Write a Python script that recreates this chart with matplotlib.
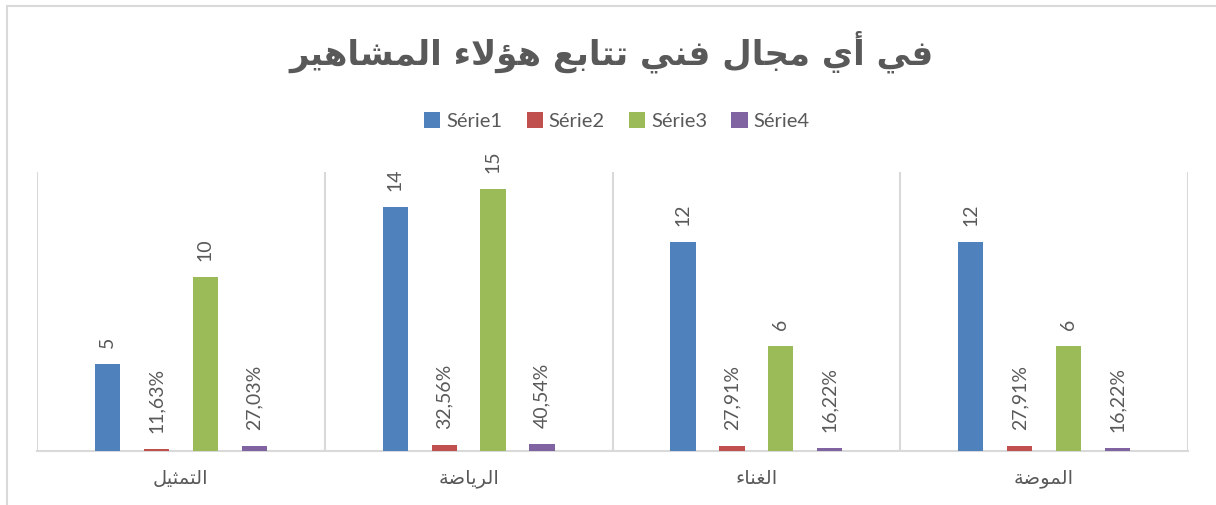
import matplotlib

matplotlib.use("Agg")

import matplotlib.pyplot as plt
from matplotlib.patches import Rectangle

title = "في أي مجال فني تتابع هؤلاء المشاهير"
categories = ["التمثيل", "الرياضة", "الغناء", "الموضة"]
series_names = ["Série1", "Série2", "Série3", "Série4"]
serie1 = [5, 14, 12, 12]
serie2 = [0.1163, 0.3256, 0.2791, 0.2791]
serie3 = [10, 15, 6, 6]
serie4 = [0.2703, 0.4054, 0.1622, 0.1622]
percent_series = [False, True, False, True]

colors = ["#4f81bd", "#c0504d", "#9bbb59", "#8064a2"]
text_color = "#595959"
grid_color = "#d9d9d9"

# matplotlib has no Arabic shaping, so pick contextual presentation forms
# (base code point, number of forms) -- 4 = dual joining, 2 = right joining
ARABIC_FORMS = {
    "\u0621": (0xFE80, 1),
    "\u0623": (0xFE83, 2),
    "\u0624": (0xFE85, 2),
    "\u0627": (0xFE8D, 2),
    "\u0628": (0xFE8F, 4),
    "\u0629": (0xFE93, 2),
    "\u062A": (0xFE95, 4),
    "\u062B": (0xFE99, 4),
    "\u062C": (0xFE9D, 4),
    "\u0631": (0xFEAD, 2),
    "\u0634": (0xFEB5, 4),
    "\u0636": (0xFEBD, 4),
    "\u0639": (0xFEC9, 4),
    "\u063A": (0xFECD, 4),
    "\u0641": (0xFED1, 4),
    "\u0644": (0xFEDD, 4),
    "\u0645": (0xFEE1, 4),
    "\u0646": (0xFEE5, 4),
    "\u0647": (0xFEE9, 4),
    "\u0648": (0xFEED, 2),
    "\u064A": (0xFEF1, 4),
}
LAM_ALEF = {"\u0627": 0xFEFB, "\u0623": 0xFEF7}


def _joins_next(c):
    return c in ARABIC_FORMS and ARABIC_FORMS[c][1] == 4


def _joinable(c):
    return c in ARABIC_FORMS and ARABIC_FORMS[c][1] >= 2


def shape_arabic(text):
    out = []
    i = 0
    n = len(text)
    while i < n:
        c = text[i]
        if c not in ARABIC_FORMS:
            out.append(c)
            i += 1
            continue
        prev = text[i - 1] if i > 0 else None
        connect_prev = prev is not None and _joins_next(prev) and _joinable(c)
        if c == "\u0644" and i + 1 < n and text[i + 1] in LAM_ALEF:
            out.append(chr(LAM_ALEF[text[i + 1]] + (1 if connect_prev else 0)))
            i += 2
            continue
        base, nforms = ARABIC_FORMS[c]
        nxt = text[i + 1] if i + 1 < n else None
        connect_next = nforms == 4 and nxt is not None and _joinable(nxt)
        if connect_prev and connect_next:
            code = base + 3
        elif connect_next:
            code = base + 2
        elif connect_prev:
            code = base + 1
        else:
            code = base
        out.append(chr(code))
        i += 1
    return "".join(reversed(out))


def fmt_label(value, is_percent):
    if is_percent:
        return f"{value * 100:.2f}%".replace(".", ",")
    return f"{value:g}"


W, H = 1216, 505
fig = plt.figure(figsize=(W / 100, H / 100), dpi=100)
ax = fig.add_axes([37 / W, (H - 451) / H, (1188 - 37) / W, (451 - 172) / H])

all_series = [serie1, serie2, serie3, serie4]
x = list(range(len(categories)))
bar_width = 0.088
step = 0.17

for k, (name, values) in enumerate(zip(series_names, all_series)):
    offset = (k - 1.5) * step
    positions = [xi + offset for xi in x]
    bars = ax.bar(positions, values, width=bar_width, color=colors[k],
                  label=name, zorder=3)
    for bar, v in zip(bars, values):
        ax.annotate(fmt_label(v, percent_series[k]),
                    xy=(bar.get_x() + bar.get_width() / 2, bar.get_height()),
                    xytext=(0, 11.5), textcoords="offset points",
                    rotation=90, ha="center", va="bottom",
                    fontsize=14, color=text_color, family="Lato")

ax.set_xlim(-0.5, len(categories) - 0.5)
ax.set_ylim(0, 16)
ax.set_yticks([])
ax.set_xticks(x)
ax.set_xticklabels([shape_arabic(c) for c in categories],
                   family="DejaVu Sans", fontsize=14, color=text_color)
ax.tick_params(axis="x", length=0, pad=13)

for b in [xi - 0.5 for xi in x] + [len(categories) - 0.5]:
    ax.axvline(b, color=grid_color, linewidth=1.5, zorder=1)

for side in ["top", "left", "right"]:
    ax.spines[side].set_visible(False)
ax.spines["bottom"].set_color(grid_color)
ax.spines["bottom"].set_linewidth(1.5)

fig.text(612 / W, 1 - 52 / H, shape_arabic(title), ha="center", va="center",
         fontsize=24.5, fontweight="bold", color=text_color,
         family="DejaVu Sans")

fig.legend(loc="center", bbox_to_anchor=(617 / W, 1 - 121 / H), ncol=4,
           frameon=False, handlelength=0.8, handleheight=0.8,
           handletextpad=0.3, columnspacing=1.2,
           prop={"family": "Lato", "size": 14.5}, labelcolor=text_color)

fig.patches.append(Rectangle((7 / W, -0.1), 1.2, 1.1 - 6 / H, fill=False,
                             edgecolor=grid_color, linewidth=1.5,
                             transform=fig.transFigure, figure=fig))

fig.savefig("out.png", dpi=100)
